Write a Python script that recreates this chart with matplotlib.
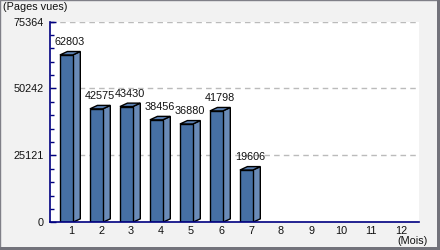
import matplotlib
matplotlib.use("Agg")
import matplotlib.pyplot as plt
from matplotlib.patches import Polygon, Rectangle
from matplotlib.ticker import FixedLocator, MultipleLocator

plt.rcParams['font.family'] = ['Liberation Sans', 'DejaVu Sans']

months = [1, 2, 3, 4, 5, 6, 7, 8, 9, 10, 11, 12]
views = [62803, 42575, 43430, 38456, 36880, 41798, 19606]
y_ticks = [0, 25121, 50242, 75364]

front_col = '#4670a5'
side_col = '#6a8bb8'
top_col = '#5a80b2'
fs = 7.8

fig = plt.figure(figsize=(4.4, 2.5), dpi=100)
fig.patch.set_facecolor('#f2f2f2')

ax = fig.add_axes([50/440, (250-222.3)/250, 369/440, 200.8/250])
ax.set_facecolor('white')
ax.set_xlim(0.3, 12.6)
ax.set_ylim(0, 75364)

# 3d-ish bars
w = 0.43
off = -0.37
dx = 0.25
dy = 1300
for m, v in zip(months, views):
    x0 = m + off
    x1 = x0 + w
    ax.add_patch(Polygon([(x1, 0), (x1 + dx, dy), (x1 + dx, v + dy), (x1, v)],
                         closed=True, facecolor=side_col, edgecolor='black', lw=1, zorder=3))
    ax.add_patch(Polygon([(x0, v), (x1, v), (x1 + dx, v + dy), (x0 + dx, v + dy)],
                         closed=True, facecolor=top_col, edgecolor='black', lw=1, zorder=3))
    ax.add_patch(Rectangle((x0, 0), w, v, facecolor=front_col, edgecolor='black', lw=1, zorder=4))
    ax.annotate(str(v), (m - 0.03, v + dy), xytext=(0, 3), textcoords='offset points',
                ha='center', va='bottom', fontsize=fs, color='#111111', zorder=5)

ax.yaxis.set_major_locator(FixedLocator(y_ticks))
ax.yaxis.set_minor_locator(MultipleLocator(25121 / 5))
ax.set_yticklabels([str(t) for t in y_ticks])
ax.set_xticks(months)
ax.set_xticklabels([str(m) for m in months])
ax.tick_params(axis='y', which='both', direction='in', colors='#000080', length=3, width=1,
               labelcolor='#111111', labelsize=fs, pad=4.5)
ax.tick_params(axis='y', which='major', length=4)
ax.tick_params(axis='x', length=0, labelsize=fs, labelcolor='#111111', pad=2.5)

for yv in y_ticks[1:]:
    ax.axhline(yv, color='#bbbbbb', lw=1, ls=(0, (4, 3)), zorder=1)

for s in ['top', 'right']:
    ax.spines[s].set_visible(False)
ax.spines['left'].set_color('#000080')
ax.spines['bottom'].set_color('#000080')
ax.spines['left'].set_linewidth(1.2)
ax.spines['bottom'].set_linewidth(1.2)
ax.spines['bottom'].set_zorder(6)

fig.text(3/440, 1 - 7/250, '(Pages vues)', ha='left', va='center', fontsize=fs, color='#111111')
fig.text(428/440, 1 - 241/250, '(Mois)', ha='right', va='center', fontsize=fs, color='#111111')

# frame around the picture
fig.patches.append(Rectangle((0, 0), 1, 1, transform=fig.transFigure, fill=False,
                             edgecolor='#808088', lw=1))
fig.patches.append(Rectangle((437/440, 0), 3/440, 1, transform=fig.transFigure,
                             facecolor='#73737b', edgecolor='none'))
fig.patches.append(Rectangle((0, 0), 1, 3/250, transform=fig.transFigure,
                             facecolor='#73737b', edgecolor='none'))

fig.savefig('out.png', dpi=100, facecolor=fig.get_facecolor())
